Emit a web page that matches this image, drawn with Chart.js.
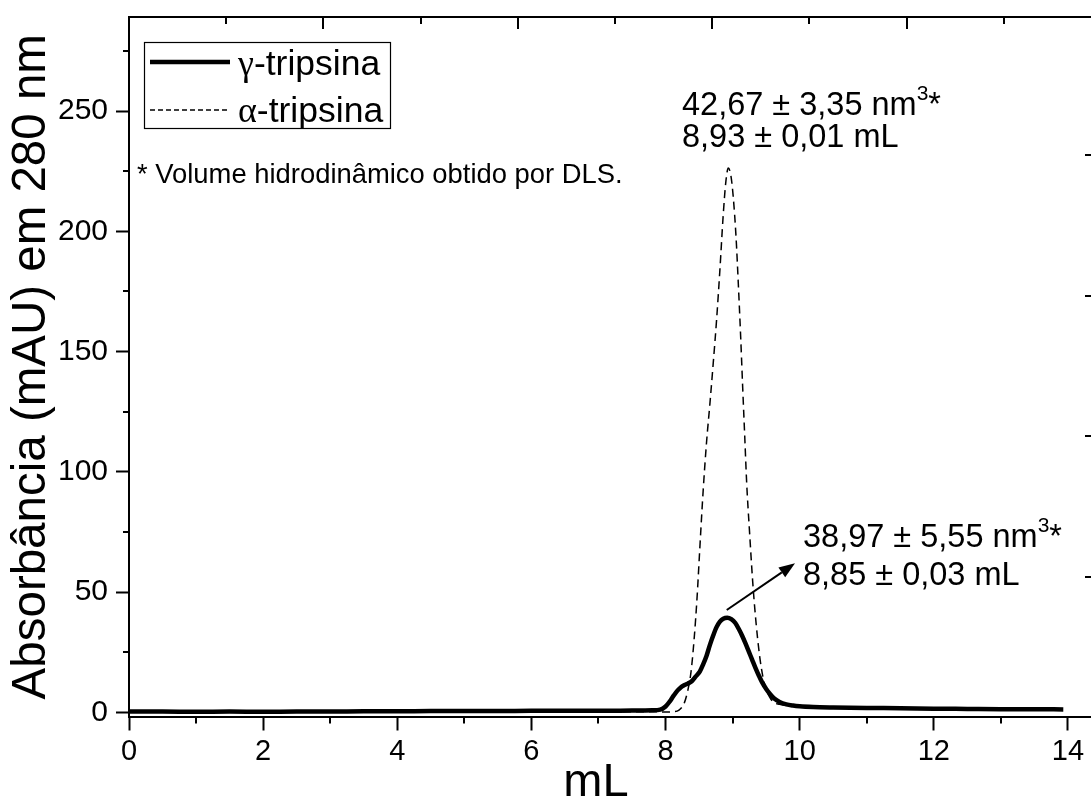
<!DOCTYPE html>
<html><head><meta charset="utf-8">
<script src="https://cdn.jsdelivr.net/npm/chart.js@4.4.1/dist/chart.umd.min.js"></script>
<style>html,body{margin:0;padding:0;background:#fff;overflow:hidden}canvas{display:block}</style>
</head><body>
<canvas id="c" width="1091" height="807"></canvas>
<script>
// ---- data ----
const seriesLabels = ['γ-tripsina', 'α-tripsina'];
const gammaX = [0, 0.5, 1, 1.5, 2, 2.5, 3, 3.5, 4, 4.5, 5, 5.5, 6, 6.5, 7, 7.5, 7.8, 7.92, 8.0, 8.06, 8.12, 8.18, 8.23, 8.27, 8.33, 8.39, 8.45, 8.51, 8.56, 8.61, 8.66, 8.71, 8.76, 8.81, 8.86, 8.92, 8.98, 9.04, 9.09, 9.14, 9.19, 9.24, 9.29, 9.34, 9.39, 9.44, 9.5, 9.56, 9.62, 9.7, 9.8, 9.9, 10.0, 10.2, 10.5, 11, 11.5, 12, 12.5, 13, 13.5, 13.93];
const gammaY = [0.4, 0.4, 0.3, 0.4, 0.3, 0.4, 0.4, 0.5, 0.5, 0.6, 0.6, 0.6, 0.7, 0.7, 0.7, 0.8, 0.9, 1.2, 2.5, 4.5, 7, 9.2, 10.5, 11.2, 12, 13, 15, 17, 20, 23.5, 28, 32, 35.5, 37.8, 39, 39.4, 38.8, 37.2, 34.8, 32, 28.8, 25.4, 22, 18.6, 15.4, 12.5, 9.8, 7.6, 5.8, 4.4, 3.4, 2.9, 2.6, 2.3, 2.1, 1.9, 1.8, 1.6, 1.5, 1.4, 1.4, 1.3];
const alphaX = [0, 1, 2, 3, 4, 5, 6, 7, 7.8, 8.0, 8.1, 8.2, 8.28, 8.33, 8.38, 8.43, 8.47, 8.51, 8.56, 8.61, 8.66, 8.71, 8.76, 8.81, 8.86, 8.9, 8.935, 8.975, 9.01, 9.05, 9.085, 9.12, 9.15, 9.18, 9.21, 9.25, 9.3, 9.35, 9.4, 9.45, 9.5, 9.55, 9.6, 9.7, 9.8, 10, 10.5, 11, 12, 13, 13.9];
const alphaY = [0.1, 0.1, 0.2, 0.2, 0.2, 0.3, 0.3, 0.3, 0.3, 0.2, 0.3, 1.0, 4, 9, 17, 32, 48, 68, 92, 112, 128, 145, 163, 184, 207, 221, 226.3, 223, 214, 198, 178, 156, 135, 115, 95, 76, 54, 37, 24, 15, 9.5, 6.5, 4.5, 3.4, 2.8, 2.3, 2.0, 1.8, 1.5, 1.4, 1.3];

const xTickValues = [0, 2, 4, 6, 8, 10, 12, 14];
const xMinorValues = [1, 3, 5, 7, 9, 11, 13];
const yTickValues = [0, 50, 100, 150, 200, 250];
const yMinorValues = [25, 75, 125, 175, 225, 275];
const topMajorValues = [1, 2, 3, 4];
const topMinorValues = [0.5, 1.5, 2.5, 3.5, 4.5];
const rightTickValues = [1, 2, 3, 4];

const xTitle = 'mL';
const yTitle = 'Absorbância (mAU) em 280 nm';
const noteText = '* Volume hidrodinâmico obtido por DLS.';
const peakAlphaLines = ['42,67 ± 3,35 nm', '8,93 ± 0,01 mL'];
const peakGammaLines = ['38,97 ± 5,55 nm', '8,85 ± 0,03 mL'];
const arrowFrom = {x: 8.912, y: 42.6};
const arrowTo = {x: 9.93, y: 62.0};

const SANS = '"Liberation Sans", Arial, Helvetica, sans-serif';
const SERIF = '"Liberation Serif", "Times New Roman", serif';

function richText(ctx, x, y, parts) {
  let cx = x;
  parts.forEach(p => {
    ctx.font = p.size + 'px ' + (p.family || SANS);
    ctx.fillText(p.t, cx, y + (p.dy || 0));
    cx += ctx.measureText(p.t).width;
  });
}

const decor = {
  id: 'decor',
  afterDraw(chart) {
    const ctx = chart.ctx;
    const a = chart.chartArea;
    const sx = chart.scales.x, sy = chart.scales.y, sx2 = chart.scales.x2, sy2 = chart.scales.y2;
    ctx.save();
    ctx.strokeStyle = '#000'; ctx.fillStyle = '#000';
    // top frame line
    ctx.lineWidth = 2;
    ctx.beginPath(); ctx.moveTo(a.left - 1, a.top); ctx.lineTo(a.right + 2, a.top); ctx.stroke();
    // minor ticks
    xMinorValues.forEach(v => { const px = Math.round(sx.getPixelForValue(v)); ctx.beginPath(); ctx.moveTo(px, a.bottom); ctx.lineTo(px, a.bottom + 7); ctx.stroke(); });
    yMinorValues.forEach(v => { const py = Math.round(sy.getPixelForValue(v)); ctx.beginPath(); ctx.moveTo(a.left, py); ctx.lineTo(a.left - 6, py); ctx.stroke(); });
    // top axis ticks (inward)
    topMajorValues.forEach(v => { const px = Math.round(sx2.getPixelForValue(v)); ctx.beginPath(); ctx.moveTo(px, a.top); ctx.lineTo(px, a.top + 12); ctx.stroke(); });
    topMinorValues.forEach(v => { const px = Math.round(sx2.getPixelForValue(v)); ctx.beginPath(); ctx.moveTo(px, a.top); ctx.lineTo(px, a.top + 7); ctx.stroke(); });
    // right axis ticks (inward)
    rightTickValues.forEach(v => { const py = Math.round(sy2.getPixelForValue(v)); ctx.beginPath(); ctx.moveTo(a.right, py); ctx.lineTo(a.right - 6, py); ctx.stroke(); });

    // x tick labels
    ctx.font = '29px ' + SANS; ctx.textAlign = 'center'; ctx.textBaseline = 'alphabetic';
    xTickValues.forEach(v => { ctx.fillText(String(v), sx.getPixelForValue(v), 760); });

    // x title
    ctx.font = '47px ' + SANS;
    ctx.fillText(xTitle, 596, 796);

    // legend
    ctx.textAlign = 'left';
    ctx.lineWidth = 1.2;
    ctx.strokeRect(144.5, 42.5, 246, 86);
    const rows = [62, 110];
    const bases = [75, 122];
    chart.data.datasets.forEach((ds, i) => {
      ctx.save();
      ctx.lineWidth = ds.borderWidth;
      ctx.setLineDash(i === 1 ? [5, 3] : []);
      ctx.beginPath(); ctx.moveTo(150, rows[i]); ctx.lineTo(230, rows[i]); ctx.stroke();
      ctx.restore();
      const lab = ds.label;
      richText(ctx, 238, bases[i], [{t: lab.charAt(0), size: 36, family: SERIF}, {t: lab.slice(1), size: 35.5}]);
    });

    // note
    ctx.font = '27.4px ' + SANS;
    ctx.fillText(noteText, 137, 183);

    // annotations
    richText(ctx, 682, 115, [{t: peakAlphaLines[0], size: 32.5}, {t: '3', size: 21, dy: -15}, {t: '*', size: 32.5}]);
    richText(ctx, 682, 147, [{t: peakAlphaLines[1], size: 32.5}]);
    richText(ctx, 803, 547, [{t: peakGammaLines[0], size: 32.5}, {t: '3', size: 21, dy: -15}, {t: '*', size: 32.5}]);
    richText(ctx, 803, 585, [{t: peakGammaLines[1], size: 32.5}]);

    // arrow
    const x0 = sx.getPixelForValue(arrowFrom.x), y0 = sy.getPixelForValue(arrowFrom.y);
    const x1 = sx.getPixelForValue(arrowTo.x), y1 = sy.getPixelForValue(arrowTo.y);
    const ang = Math.atan2(y1 - y0, x1 - x0);
    const hl = 16, hw = 6;
    const bx = x1 - hl * Math.cos(ang), by = y1 - hl * Math.sin(ang);
    ctx.lineWidth = 2;
    ctx.beginPath(); ctx.moveTo(x0, y0); ctx.lineTo(bx, by); ctx.stroke();
    ctx.beginPath();
    ctx.moveTo(x1, y1);
    ctx.lineTo(bx + hw * Math.sin(ang), by - hw * Math.cos(ang));
    ctx.lineTo(bx - hw * Math.sin(ang), by + hw * Math.cos(ang));
    ctx.closePath(); ctx.fill();
    ctx.restore();
  }
};

new Chart(document.getElementById('c'), {
  type: 'line',
  data: {
    datasets: [
      {label: seriesLabels[0], data: gammaX.map((x, i) => ({x, y: gammaY[i]})), borderColor: '#000', borderWidth: 4.5, pointRadius: 0, cubicInterpolationMode: 'monotone', fill: false},
      {label: seriesLabels[1], data: alphaX.map((x, i) => ({x, y: alphaY[i]})), borderColor: '#000', borderWidth: 1.5, borderDash: [8, 5], pointRadius: 0, cubicInterpolationMode: 'monotone', fill: false}
    ]
  },
  options: {
    responsive: false, animation: false, devicePixelRatio: 1,
    layout: {autoPadding: false, padding: {top: 17, right: 0, left: 0, bottom: 0}},
    plugins: {legend: {display: false}, tooltip: {enabled: false}},
    scales: {
      x: {
        type: 'linear', position: 'bottom', min: 0, max: 14.343,
        afterBuildTicks: s => { s.ticks = xTickValues.map(v => ({value: v})); },
        afterFit: s => { s.height = 90.5; s.paddingLeft = 0; s.paddingRight = 0; s.paddingTop = 0; s.paddingBottom = 0; },
        grid: {drawOnChartArea: false, drawTicks: true, tickLength: 14, tickWidth: 2, tickColor: '#000'},
        border: {display: true, color: '#000', width: 2},
        ticks: {display: false}
      },
      y: {
        type: 'linear', position: 'left', min: -1.66, max: 289.1,
        afterBuildTicks: s => { s.ticks = yTickValues.map(v => ({value: v})); },
        afterFit: s => { s.width = 129; s.paddingLeft = 0; s.paddingRight = 0; s.paddingTop = 0; s.paddingBottom = 0; },
        grid: {drawOnChartArea: false, drawTicks: true, tickLength: 13, tickWidth: 2, tickColor: '#000'},
        border: {display: true, color: '#000', width: 2},
        ticks: {color: '#000', font: {family: SANS, size: 30}, padding: 8, autoSkip: false, callback: v => String(v)},
        title: {display: true, text: yTitle, color: '#000', font: {family: SANS, size: 47.5}, padding: {top: 3, bottom: 0}}
      },
      x2: {type: 'linear', position: 'top', display: false, min: 0, max: 4.949},
      y2: {type: 'linear', position: 'right', display: false, min: 0.01, max: 4.98}
    }
  },
  plugins: [decor]
});
</script>
</body></html>
